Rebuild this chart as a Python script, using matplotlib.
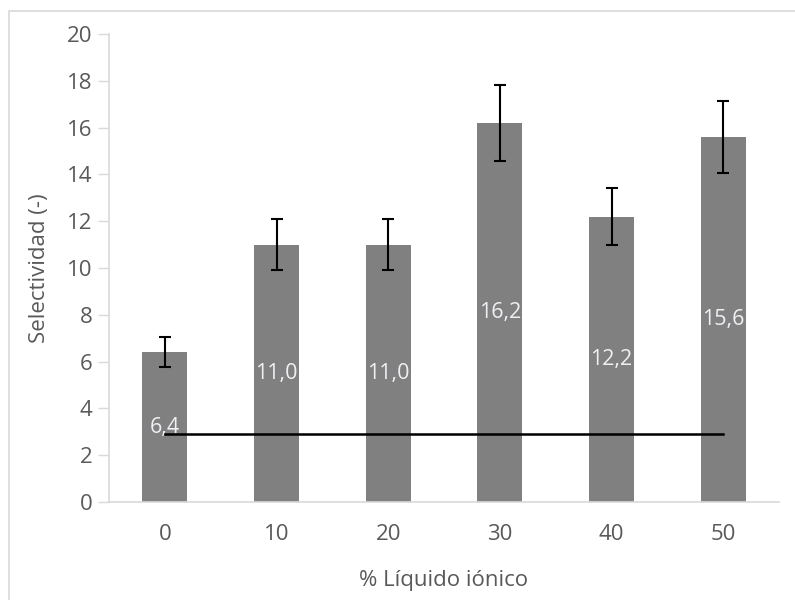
import matplotlib
matplotlib.use("Agg")
import matplotlib.pyplot as plt
from matplotlib.patches import Rectangle

plt.rcParams['font.family'] = ['Open Sans', 'DejaVu Sans']

categorias = ['0', '10', '20', '30', '40', '50']
selectividad = [6.4, 11.0, 11.0, 16.2, 12.2, 15.6]
errores = [0.64, 1.1, 1.1, 1.62, 1.2, 1.55]
etiquetas = ['6,4', '11,0', '11,0', '16,2', '12,2', '15,6']
linea_ref = 2.9

fig = plt.figure(figsize=(7.95, 6.0), dpi=100)
# marco gris claro alrededor del grafico
fig.patches.append(Rectangle((9/795, -0.1), 1.2, 1 - 11/600 + 0.1,
                             transform=fig.transFigure, fill=False,
                             edgecolor='#d9d9d9', linewidth=1.2))
ax = fig.add_axes([109/795, 1 - 502/600, 670/795, 468/600])

x = list(range(len(categorias)))
ax.bar(x, selectividad, width=0.4, color='#808080', zorder=2)
ax.errorbar(x, selectividad, yerr=errores, fmt='none', ecolor='black',
            elinewidth=1.5, capsize=4.5, capthick=1.5, zorder=3)
for xi, v, t in zip(x, selectividad, etiquetas):
    ax.text(xi, v / 2, t, ha='center', va='center', color='#eef0f4',
            fontsize=15.5, zorder=4)
ax.plot([0, 5], [linea_ref, linea_ref], color='black', linewidth=1.8, zorder=5)

ax.set_xlim(-0.5, 5.5)
ax.set_ylim(0, 20)
ax.set_yticks(range(0, 21, 2))
ax.set_xticks(x)
ax.set_xticklabels(categorias)
ax.tick_params(axis='y', colors='#d9d9d9', labelcolor='#595959', length=8,
               width=1, labelsize=16, pad=4)
ax.tick_params(axis='x', length=0, labelcolor='#595959', labelsize=16, pad=16)
for s in ['top', 'right']:
    ax.spines[s].set_visible(False)
for s in ['left', 'bottom']:
    ax.spines[s].set_color('#d9d9d9')
    ax.spines[s].set_linewidth(1.2)

ax.set_ylabel('Selectividad (-)', color='#595959', fontsize=16, labelpad=12)
ax.set_xlabel('% Líquido iónico', color='#595959', fontsize=16, labelpad=18)

fig.savefig('out.png', dpi=100)
